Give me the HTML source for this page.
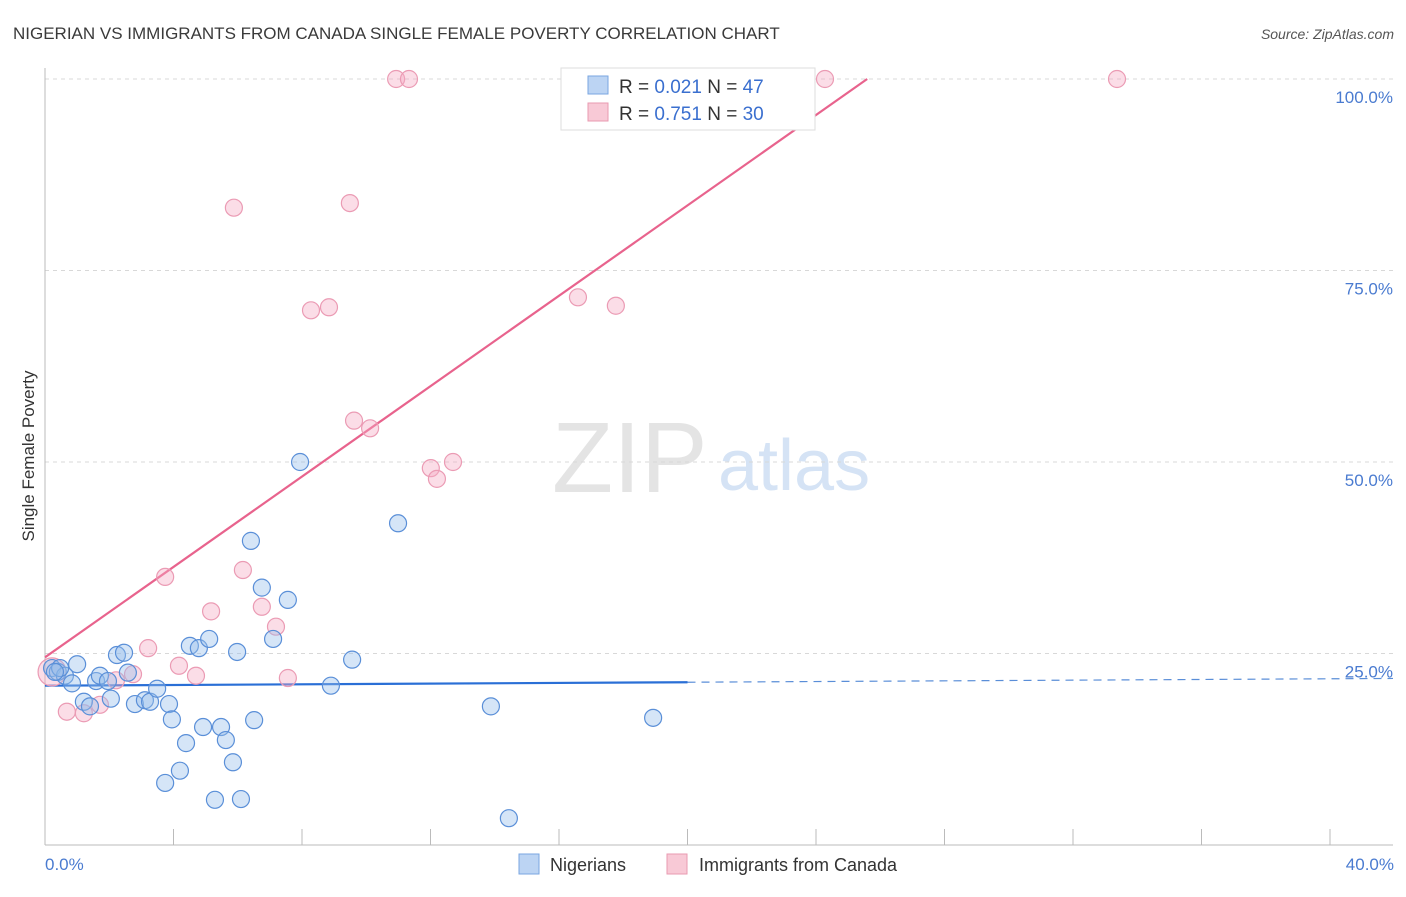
<!DOCTYPE html>
<html><head><meta charset="utf-8"><style>
body{margin:0;background:#fff;font-family:"Liberation Sans",sans-serif;}
svg text{font-family:"Liberation Sans",sans-serif;}
</style></head><body>
<svg id="chart" width="1406" height="892" viewBox="0 0 1406 892" xmlns="http://www.w3.org/2000/svg">
<text x="13" y="39" font-size="17" fill="#3a3a3a">NIGERIAN VS IMMIGRANTS FROM CANADA SINGLE FEMALE POVERTY CORRELATION CHART</text>
<text x="1394" y="39" font-size="14" fill="#555" font-style="italic" text-anchor="end">Source: ZipAtlas.com</text>
<g>
<text x="552" y="492" font-size="100" fill="#e4e4e4" font-family="Liberation Serif, serif">ZIP</text>
<text x="718" y="490" font-size="72" fill="#d5e3f5">atlas</text>
</g>
<g id="grid"></g>
<g id="axes"></g>
<g id="trend"></g>
<g id="points"></g>
<text transform="translate(34,456) rotate(-90)" font-size="17" fill="#333" text-anchor="middle">Single Female Poverty</text>
<text x="45" y="870" font-size="17" fill="#4a7bd0">0.0%</text>
<text x="1394" y="870" font-size="17" fill="#4a7bd0" text-anchor="end">40.0%</text>
<g>
<rect x="561" y="68" width="254" height="62" fill="#fff" stroke="#ddd"/>
<rect x="588" y="76" width="20" height="18" fill="#bcd4f3" stroke="#7aa6e0"/>
<rect x="588" y="103" width="20" height="18" fill="#f8c9d6" stroke="#e99ab0"/>
<text x="619" y="93" font-size="19" fill="#333">R = <tspan fill="#3a6fcf">0.021</tspan>   N = <tspan fill="#3a6fcf">47</tspan></text>
<text x="619" y="120" font-size="19" fill="#333">R = <tspan fill="#3a6fcf">0.751</tspan>   N = <tspan fill="#3a6fcf">30</tspan></text>
</g>
<g>
<rect x="519" y="854" width="20" height="20" fill="#bcd4f3" stroke="#7aa6e0"/>
<text x="550" y="871" font-size="18" fill="#333">Nigerians</text>
<rect x="667" y="854" width="20" height="20" fill="#f8c9d6" stroke="#e99ab0"/>
<text x="699" y="871" font-size="18" fill="#333">Immigrants from Canada</text>
</g>
</svg>
<script>
const yTicks=[25,50,75,100];
const yTickLabels=["25.0%","50.0%","75.0%","100.0%"];
const xTicks=[0,4,8,12,16,20,24,28,32,36,40];
const blueX=[0.22,0.40,0.62,1.0,0.84,1.21,1.40,1.59,1.71,1.96,2.05,2.24,2.46,2.58,2.80,3.11,3.27,3.49,3.86,3.95,4.39,4.20,3.74,4.51,4.79,5.11,4.92,5.48,5.63,5.85,5.29,6.10,5.98,6.41,6.51,6.75,7.10,7.56,7.94,8.90,9.56,10.99,13.88,14.44,18.93,0.47,0.31];
const blueY=[23.1,22.6,22.1,23.6,21.1,18.7,18.1,21.4,22.1,21.4,19.1,24.8,25.1,22.5,18.4,18.9,18.7,20.4,18.4,16.4,13.3,9.7,8.1,26.0,25.7,26.9,15.4,15.4,13.7,10.8,5.9,6.0,25.2,39.7,16.3,33.6,26.9,32.0,50.0,20.8,24.2,42.0,18.1,3.5,16.6,23.1,22.6];
const pinkX=[0.22,0.68,1.21,1.71,2.21,2.74,3.21,3.74,4.17,4.70,5.17,5.88,6.16,6.75,7.19,7.56,8.28,8.84,9.49,9.62,10.12,10.93,11.33,12.01,12.20,12.70,16.59,17.77,24.28,33.37];
const pinkY=[22.6,17.4,17.2,18.3,21.5,22.3,25.7,35.0,23.4,22.1,30.5,83.2,35.9,31.1,28.5,21.8,69.8,70.2,83.8,55.4,54.4,100,100,49.2,47.8,50.0,71.5,70.4,100,100];
const blueTrend=[20.8,0.0225];
const pinkTrend=[24.5,2.95];
const NS="http://www.w3.org/2000/svg";
const X0=45,X1=1330,Y0=845,Y100=79;
function sx(v){return X0+(X1-X0)*v/40;}
function sy(v){return Y0-(Y0-Y100)*v/100;}
function mk(tag,attrs,parent){const e=document.createElementNS(NS,tag);for(const k in attrs)e.setAttribute(k,attrs[k]);parent.appendChild(e);return e;}
const grid=document.getElementById('grid'),axes=document.getElementById('axes'),trend=document.getElementById('trend'),pts=document.getElementById('points');
yTicks.forEach((t,i)=>{
 const l=mk('line',{x1:45,x2:1393,y1:sy(t),y2:sy(t),stroke:'#d8d8d8','stroke-dasharray':'4,4'},grid);
 
 
 const tx=mk('text',{x:1393,y:sy(t)+24,'font-size':17,fill:'#4a7bd0','text-anchor':'end'},grid);
 tx.textContent=yTickLabels[i];
 
 
});
const ya=mk('line',{x1:45,x2:45,y1:68,y2:845,stroke:'#bbb'},axes);


const xa=mk('line',{x1:45,x2:1393,y1:845,y2:845,stroke:'#bbb'},axes);


xTicks.forEach(t=>{
 const l=mk('line',{x1:sx(t),x2:sx(t),y1:829,y2:845,stroke:'#bbb'},axes);
 
 
});
const bt1=mk('line',{x1:sx(0),y1:sy(blueTrend[0]),x2:sx(20),y2:sy(blueTrend[0]+blueTrend[1]*20),stroke:'#2a6fd6','stroke-width':2.2},trend);


const bt2=mk('line',{x1:sx(20),y1:sy(blueTrend[0]+blueTrend[1]*20),x2:1393,y2:sy(blueTrend[0]+blueTrend[1]*42),stroke:'#5a8ed8','stroke-width':1.2,'stroke-dasharray':'8,6'},trend);


const pxEnd=(100-pinkTrend[0])/pinkTrend[1];
const pt=mk('line',{x1:sx(0),y1:sy(pinkTrend[0]),x2:sx(pxEnd),y2:sy(100),stroke:'#e8638d','stroke-width':2.2},trend);


pinkX.forEach((x,i)=>{
 const c=mk('circle',{cx:sx(x),cy:sy(pinkY[i]),r:i==0?14:8.5,fill:'rgba(245,170,195,0.4)',stroke:'#eb9bb4','stroke-width':1.2},pts);
 
 
});
blueX.forEach((x,i)=>{
 const c=mk('circle',{cx:sx(x),cy:sy(blueY[i]),r:8.5,fill:'rgba(150,190,235,0.4)',stroke:'#5a8fd8','stroke-width':1.2},pts);
 
 
});
</script>
</body></html>
